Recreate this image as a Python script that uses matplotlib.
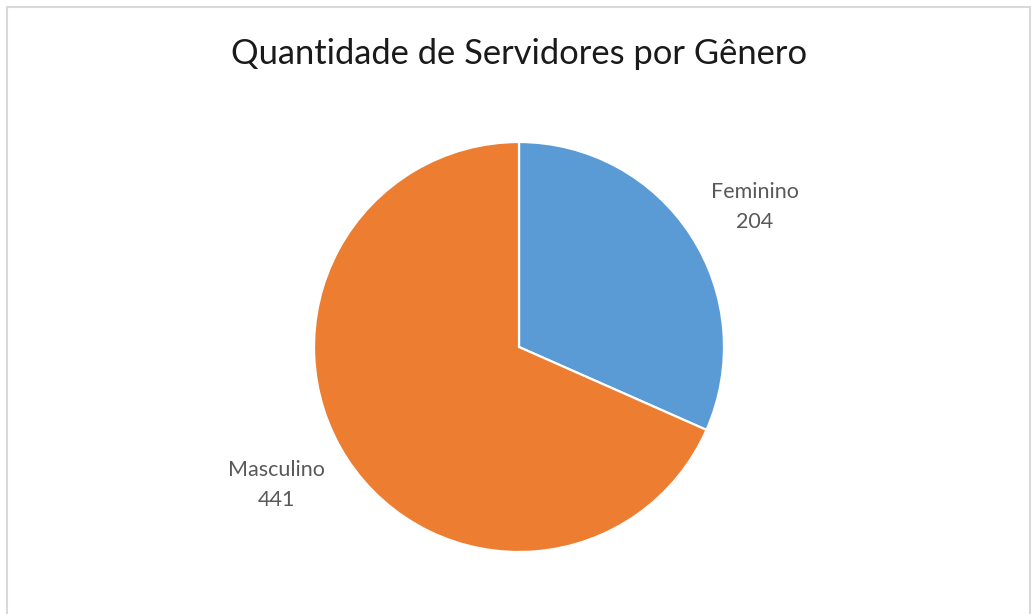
import matplotlib
matplotlib.use("Agg")
import matplotlib.pyplot as plt
from matplotlib.patches import Rectangle

# dados
generos = ["Feminino", "Masculino"]
quantidades = [204, 441]
cores = ["#5B9BD5", "#ED7D31"]

plt.rcParams['font.family'] = ['Lato', 'DejaVu Sans']

W, H = 1032, 614
fig = plt.figure(figsize=(W / 100, H / 100), dpi=100)

# moldura cinza do grafico
fig.patches.append(Rectangle((7 / W, -0.05), (1030 - 7) / W, 1.05 - 7 / H,
                             transform=fig.transFigure, fill=False,
                             edgecolor="#d9d9d9", linewidth=1.5))

# pizza centrada em (519, 347) px, raio 205 px
cx, cy, r = 519, 347, 205
ax = fig.add_axes([(cx - r) / W, (H - cy - r) / H, 2 * r / W, 2 * r / H])
ax.pie(quantidades, colors=cores, startangle=90, counterclock=False,
       wedgeprops=dict(edgecolor="white", linewidth=1.6))
ax.set_xlim(-1, 1)
ax.set_ylim(-1, 1)
ax.set_aspect("equal")

# rotulos das fatias
pos = [(1.151, 0.683), (-1.185, -0.673)]
for nome, q, (x, y) in zip(generos, quantidades, pos):
    ax.text(x, y, f"{nome}\n{q}", ha="center", va="center", fontsize=15.5,
            color="#595959", linespacing=1.6, clip_on=False)

fig.text(519 / W, 1 - 54 / H, "Quantidade de Servidores por Gênero",
         ha="center", va="center", fontsize=24.8, color="#1a1a1a")

fig.savefig("out.png", dpi=100)
